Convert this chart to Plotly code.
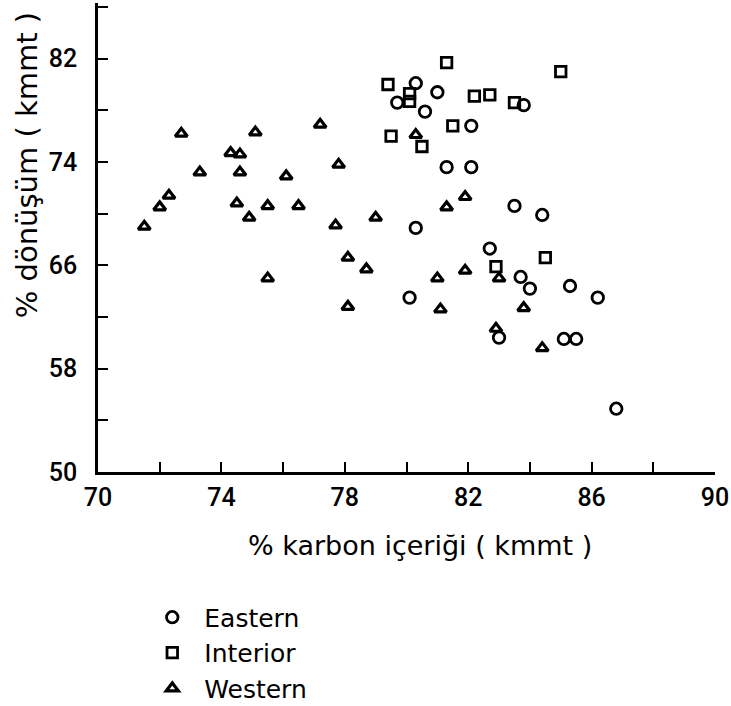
import plotly.graph_objects as go

# ---- data ----
eastern_x = [80.3, 81.0, 79.7, 80.6, 83.8, 82.1, 81.3, 82.1, 80.3, 83.5, 84.4,
             82.7, 80.1, 83.7, 84.0, 85.3, 86.2, 83.0, 85.1, 85.5, 86.8]
eastern_y = [80.1, 79.4, 78.6, 77.9, 78.4, 76.8, 73.6, 73.6, 68.9, 70.6, 69.9,
             67.3, 63.5, 65.1, 64.2, 64.4, 63.5, 60.4, 60.3, 60.3, 54.9]

interior_x = [81.3, 85.0, 79.4, 80.1, 80.1, 82.2, 82.7, 83.5, 81.5, 79.5, 80.5, 82.9, 84.5]
interior_y = [81.7, 81.0, 80.0, 79.3, 78.7, 79.1, 79.2, 78.6, 76.8, 76.0, 75.2, 65.9, 66.6]

western_x = [72.7, 75.1, 77.2, 74.3, 74.6, 73.3, 74.6, 76.1, 77.8, 72.3, 72.0,
             71.5, 74.5, 74.9, 75.5, 76.5, 77.7, 79.0, 78.1, 78.7, 75.5, 78.1,
             80.3, 81.3, 81.9, 81.0, 81.9, 83.0, 81.1, 83.8, 82.9, 84.4]
western_y = [76.2, 76.3, 76.9, 74.7, 74.6, 73.2, 73.2, 72.9, 73.8, 71.4, 70.5,
             69.0, 70.8, 69.7, 70.6, 70.6, 69.1, 69.7, 66.6, 65.7, 65.0, 62.8,
             76.1, 70.5, 71.3, 65.0, 65.6, 65.0, 62.6, 62.7, 61.1, 59.6]

x_tick_vals = [70, 74, 78, 82, 86, 90]
y_tick_vals = [50, 58, 66, 74, 82]

x_title = "% karbon içeriği ( kmmt )"
y_title = "% dönüşüm ( kmmt )"
series_names = ["Eastern", "Interior", "Western"]

# ---- figure ----
TICKFONT = "Roboto, DejaVu Sans, sans-serif"
FONT = "DejaVu Sans, sans-serif"
W, H = 731, 706
AX_LEFT, AX_RIGHT, AX_TOP, AX_BOTTOM = 97.7, 715, 3.3, 471.7   # page pixels
PX_PER_Y = 12.9

L = AX_LEFT
R = W - AX_RIGHT
T = AX_TOP
B = H - AX_BOTTOM
y_top = 50 + (AX_BOTTOM - AX_TOP) / PX_PER_Y

pw = AX_RIGHT - AX_LEFT
ph = AX_BOTTOM - AX_TOP

def px_to_paper_x(px):
    return (px - AX_LEFT) / pw

def py_to_paper_y(py):
    return (AX_BOTTOM - py) / ph

fig = go.Figure()
fig.add_trace(go.Scatter(x=eastern_x, y=eastern_y, mode="markers", name=series_names[0],
                         marker=dict(symbol="circle-open", size=11.5, color="black",
                                     line=dict(color="black", width=2.8))))
fig.add_trace(go.Scatter(x=interior_x, y=interior_y, mode="markers", name=series_names[1],
                         marker=dict(symbol="square-open", size=10.5, color="black",
                                     line=dict(color="black", width=2.8))))
fig.add_trace(go.Scatter(x=western_x, y=western_y, mode="markers", name=series_names[2],
                         marker=dict(symbol="triangle-up-open", size=10.5, color="black",
                                     line=dict(color="black", width=3.2))))

fig.update_layout(
    width=W, height=H,
    margin=dict(l=L, r=R, t=T, b=B, pad=0, autoexpand=False),
    paper_bgcolor="white", plot_bgcolor="white",
    font=dict(family=FONT, color="black", size=25),
    showlegend=True,
    legend=dict(x=px_to_paper_x(140), y=py_to_paper_y(594), xanchor="left", yanchor="top",
                font=dict(size=25, family=FONT), bgcolor="rgba(0,0,0,0)",
                itemwidth=54, tracegroupgap=0),
    xaxis=dict(range=[70, 90], showgrid=False, zeroline=False,
               showline=True, linecolor="black", linewidth=2.5,
               tickvals=x_tick_vals, ticks="inside", ticklen=10, tickwidth=2.2,
               tickcolor="black", ticklabelstandoff=1, ticklabeloverflow="allow",
               minor=dict(dtick=2, tick0=70, ticks="inside", ticklen=10,
                          tickwidth=2.2, tickcolor="black"),
               tickfont=dict(size=25, family=TICKFONT, weight=500)),
    yaxis=dict(range=[50, y_top], showgrid=False, zeroline=False,
               showline=True, linecolor="black", linewidth=2.5,
               tickvals=y_tick_vals, ticks="inside", ticklen=10, tickwidth=2.2,
               tickcolor="black", ticklabelstandoff=13,
               minor=dict(dtick=4, tick0=50, ticks="inside", ticklen=10,
                          tickwidth=2.2, tickcolor="black"),
               tickfont=dict(size=25, family=TICKFONT, weight=500)),
    annotations=[
        dict(text=x_title, xref="paper", yref="paper",
             x=px_to_paper_x(420), y=py_to_paper_y(545), xanchor="center", yanchor="middle",
             showarrow=False, font=dict(size=27, family=FONT)),
        dict(text=y_title, xref="paper", yref="paper", textangle=-90,
             x=px_to_paper_x(27), y=py_to_paper_y(165), xanchor="center", yanchor="middle",
             showarrow=False, font=dict(size=29, family=FONT)),
    ],
)

fig.write_html("out.html", config={"displayModeBar": False},
               post_script="document.body.style.margin='0';document.body.style.overflow='hidden';")
